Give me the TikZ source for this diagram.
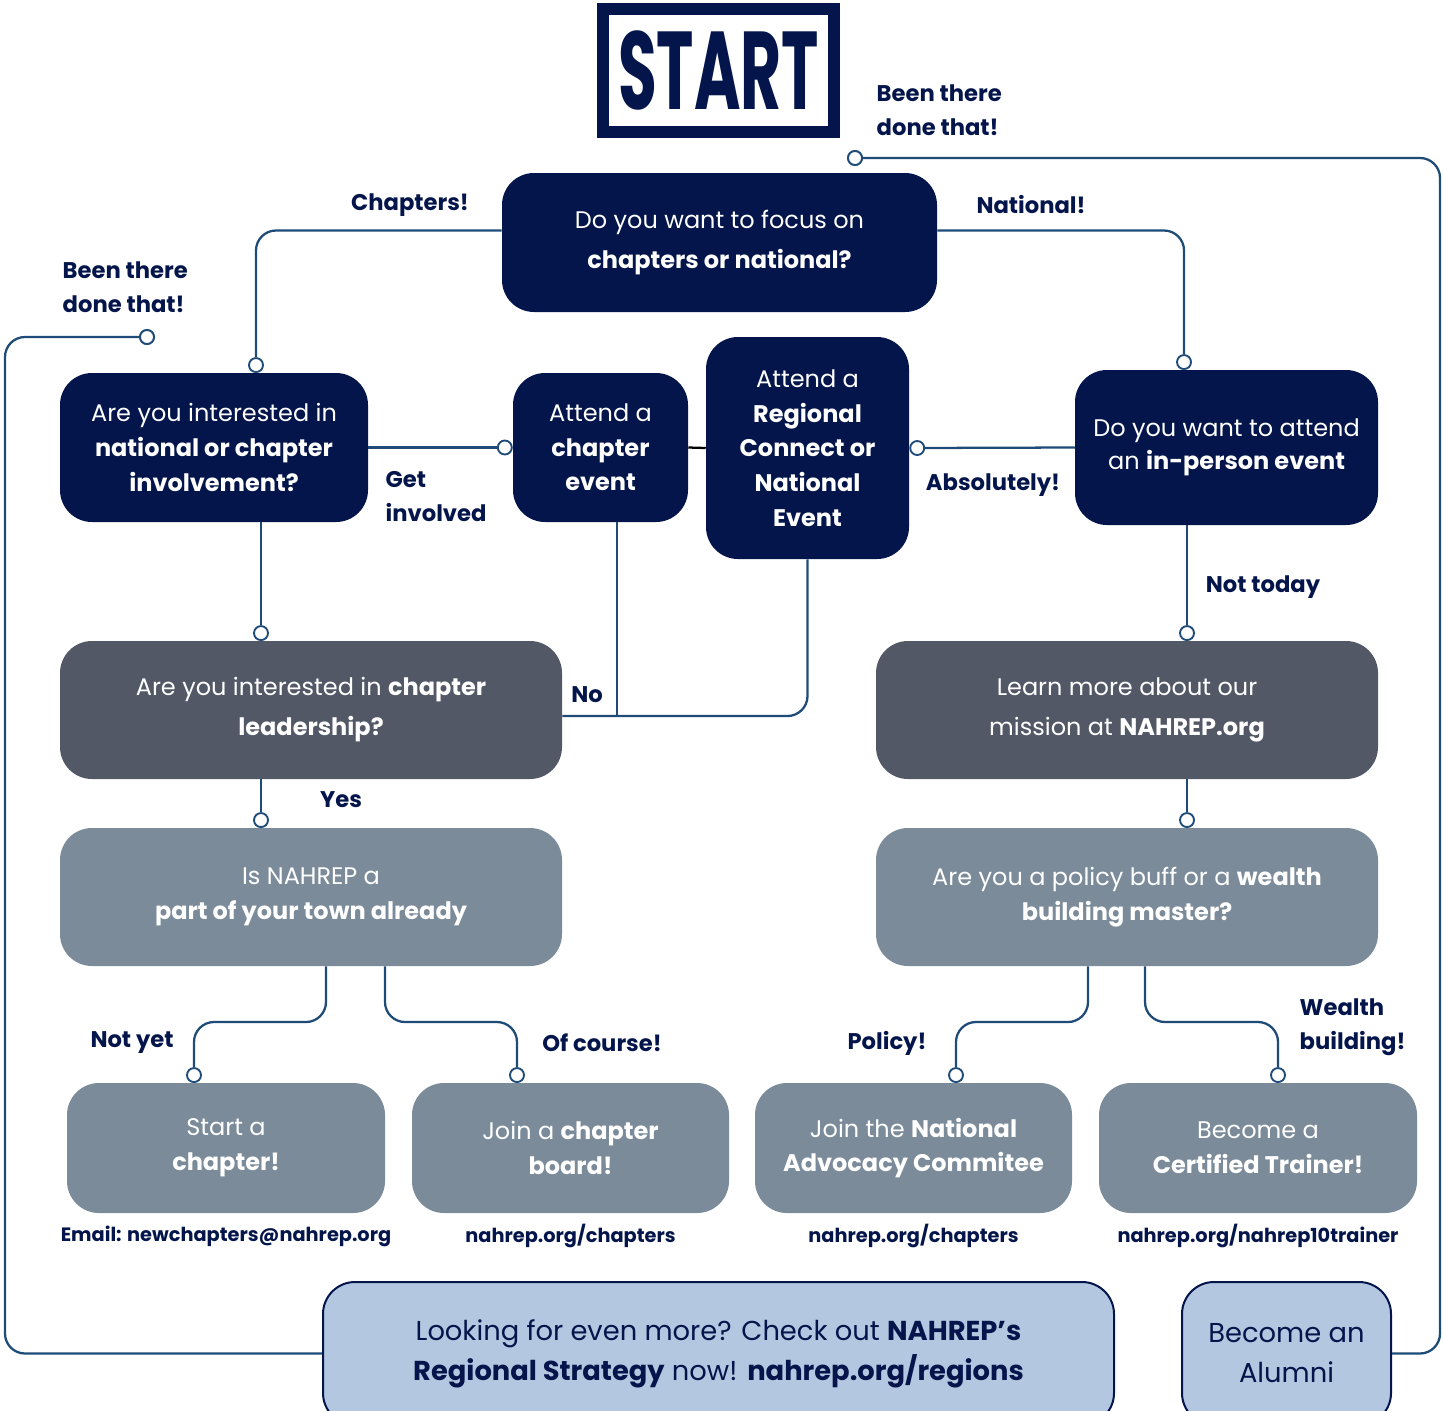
\documentclass[tikz,border=0pt]{standalone}
\usepackage{fontspec}
\setmainfont{Poppins}
\usetikzlibrary{positioning,calc}
\definecolor{navy}{HTML}{03154A}
\definecolor{slate}{HTML}{525866}
\definecolor{steel}{HTML}{7B8B99}
\definecolor{pale}{HTML}{B4C7E0}
\definecolor{linecol}{HTML}{1E4B78}

\begin{document}
\begin{tikzpicture}[x=0.75pt,y=-0.75pt,
  font=\fontsize{18}{26}\selectfont,
  wh/.style 2 args={minimum width=#1*0.75pt,minimum height=#2*0.75pt},
  box/.style={rounded corners=24pt,align=center,inner sep=0pt,text=white},
  navybox/.style={box,fill=navy},
  darkbox/.style={box,fill=slate},
  greybox/.style={box,fill=steel},
  bluebox/.style={box,fill=pale,draw=navy,line width=1.5pt,text=navy,font=\fontsize{20.5}{30}\selectfont},
  dot/.style={circle,draw=linecol,fill=white,line width=1.4pt,inner sep=0pt,minimum size=10.5pt},
  link/.style={draw=linecol,line width=1.7pt,rounded corners=15pt},
  lbl/.style={text=navy,align=left,font=\bfseries\fontsize{17}{25.5}\selectfont},
  url/.style={text=navy,font=\bfseries\fontsize{14.5}{16}\selectfont}]

\useasboundingbox (0,0) rectangle (1444,1410);
\clip (0,0) rectangle (1444,1410);

%start and first question
  \node[draw=navy,line width=9pt,wh={231}{123},text=navy,
    font=\bfseries\fontsize{83}{83}\selectfont] (start) at (718.5,70.5) {\scalebox{0.57}[1]{START}};
  \node[navybox,wh={435}{139},font=\fontsize{18}{30}\selectfont] (focus) at (719.5,242.5)
    {Do you want to focus on\\\textbf{chapters or national?}};

%second row
  \node[navybox,wh={308}{149}] (interest) at (214,447.5)
    {Are you interested in\\\textbf{national or chapter}\\\textbf{involvement?}};
  \node[navybox,wh={175}{149}] (chevent) at (600.5,447.5)
    {Attend a\\\textbf{chapter}\\\textbf{event}};
  \node[navybox,wh={203}{222}] (regional) at (807.5,448)
    {Attend a\\\textbf{Regional}\\\textbf{Connect or}\\\textbf{National}\\\textbf{Event}};
  \node[navybox,wh={303}{155},font=\fontsize{18}{25}\selectfont] (inperson) at (1226.5,447.5)
    {Do you want to attend\\an \textbf{in-person event}};

%grey rows
  \node[darkbox,wh={502}{138},font=\fontsize{18}{30}\selectfont] (leader) at (311,710)
    {Are you interested in \textbf{chapter}\\\textbf{leadership?}};
  \node[darkbox,wh={502}{138},font=\fontsize{18}{30}\selectfont] (learn) at (1127,710)
    {Learn more about our\\mission at \textbf{NAHREP.org}};
  \node[greybox,wh={502}{138}] (town) at (311,897)
    {Is NAHREP a\\\textbf{part of your town already}};
  \node[greybox,wh={502}{138}] (policy) at (1127,897)
    {Are you a policy buff or a \textbf{wealth}\\\textbf{building master?}};

%outcomes
  \node[greybox,wh={318}{130}] (startch) at (226,1148) {Start a\\\textbf{chapter!}};
  \node[greybox,wh={317}{130}] (board) at (570.5,1148) {Join a \textbf{chapter}\\\textbf{board!}};
  \node[greybox,wh={317}{130}] (advocacy) at (913.5,1148) {Join the \textbf{National}\\\textbf{Advocacy Commitee}};
  \node[greybox,wh={318}{130}] (trainer) at (1258,1148) {Become a\\\textbf{Certified Trainer!}};

  \node[url] (urlstart) at (226,1236) {Email: newchapters@nahrep.org};
  \node[url] (urlboard) at (570.5,1236) {nahrep.org/chapters};
  \node[url] (urladv) at (913.5,1236) {nahrep.org/chapters};
  \node[url] (urltrain) at (1258,1236) {nahrep.org/nahrep10trainer};

%bottom row
  \node[bluebox,wh={791}{143}] (regions) at (718.5,1353.5)
    {Looking for even more? Check out \textbf{NAHREP’s}\\\textbf{Regional Strategy} now! \textbf{nahrep.org/regions}};
  \node[bluebox,wh={209}{143}] (alumni) at (1286.5,1353.5) {Become an\\Alumni};

%circles
  \node[dot] (cback) at (855,158) {};
  \node[dot] (cleft) at (147,337) {};
  \node[dot,anchor=south] (cint) at (256,373) {};
  \node[dot,anchor=south] (cinp) at (1184,370) {};
  \node[dot,anchor=east] (cch) at (chevent.west) {};
  \node[dot,anchor=west] (creg) at (regional.east) {};
  \node[dot,anchor=south] (clead) at (261,641) {};
  \node[dot,anchor=south] (clearn) at (1187,641) {};
  \node[dot,anchor=south] (ctown) at (261,828) {};
  \node[dot,anchor=south] (cpol) at (1187,828) {};
  \node[dot,anchor=south] (cstart) at (194,1083) {};
  \node[dot,anchor=south] (cboard) at (517,1083) {};
  \node[dot,anchor=south] (cadv) at (956,1083) {};
  \node[dot,anchor=south] (ctrain) at (1278,1083) {};

%branch points
  \coordinate (nojoin) at (617,716);
  \coordinate (townL) at (326,1022);
  \coordinate (townR) at (385,1022);
  \coordinate (polL) at (1088,1022);
  \coordinate (polR) at (1145,1022);

%connectors
  \draw[link] ([yshift=9pt]focus.west) -| (cint);
  \draw[link] ([yshift=9pt]focus.east) -| (cinp);
  \draw[link] (cback) -- (1440,158) |- (alumni.east);
  \draw[link] (cleft) -- (5,337) |- (regions.west);
  \draw[link] (interest.east) -- (cch);
  \draw[black,line width=1.7pt] (chevent.east) -- (regional.west);
  \draw[link] (creg) -- (inperson.west);
  \draw[link] (clearn |- inperson.south) -- (clearn);
  \draw[link] (cpol |- learn.south) -- (cpol);
  \draw[link] (clead |- interest.south) -- (clead);
  \draw[link] (ctown |- leader.south) -- (ctown);
  \draw[link] (nojoin |- chevent.south) -- (nojoin);
  \draw[link] (regional.south) |- (nojoin) -- (leader.east |- nojoin);
  \draw[link] (townL |- town.south) -- (townL) -| (cstart);
  \draw[link] (townR |- town.south) -- (townR) -| (cboard);
  \draw[link] (polL |- policy.south) -- (polL) -| (cadv);
  \draw[link] (polR |- policy.south) -- (polR) -| (ctrain);
  \node[dot] at (cback) {};
  \node[dot] at (cleft) {};

%labels
  \node[lbl,anchor=west] (lback) at (872,110) {Been there\\done that!};
  \node[lbl,anchor=west] (lleft) at (58,287) {Been there\\done that!};
  \node[lbl] (lchap) at (410,205) {Chapters!};
  \node[lbl] (lnat) at (1031,205) {National!};
  \node[lbl,anchor=west] (lget) at (381,497) {Get\\involved};
  \node[lbl] (labs) at (993,485) {Absolutely!};
  \node[lbl] (lnot) at (1263,587) {Not today};
  \node[lbl] (lno) at (587,695) {No};
  \node[lbl] (lyes) at (341,800) {Yes};
  \node[lbl] (lyet) at (132,1043) {Not yet};
  \node[lbl] (lcourse) at (602,1043) {Of course!};
  \node[lbl] (lpol) at (887,1043) {Policy!};
  \node[lbl,anchor=west] (lwealth) at (1295,1027) {Wealth\\building!};

\end{tikzpicture}
\end{document}
